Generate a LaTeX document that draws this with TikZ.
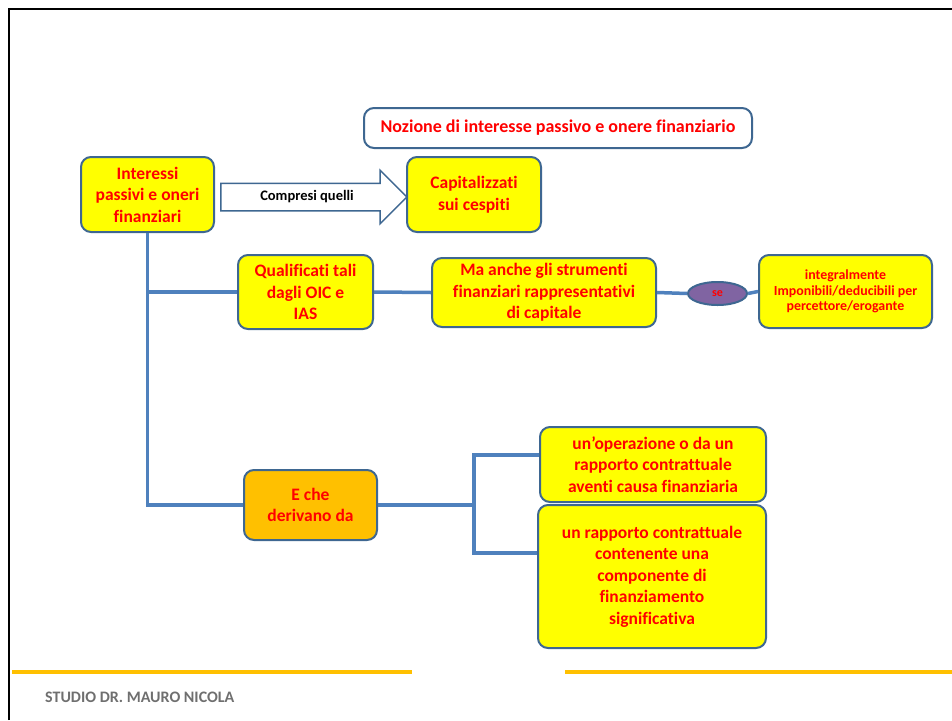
\documentclass[tikz,border=0pt]{standalone}
\usepackage{fontspec}
\setmainfont{Carlito}[BoldFont={Carlito Bold}, Ligatures=NoCommon]
\usepackage{xcolor}
\usepackage{tikz}
\usetikzlibrary{shapes.geometric, shapes.arrows}
\definecolor{giallo}{HTML}{FFFF00}
\definecolor{arancio}{HTML}{FFC000}
\definecolor{rosso}{HTML}{FF0000}
\definecolor{bordo}{HTML}{3E6791}
\definecolor{linblu}{HTML}{4F81BD}
\definecolor{viola}{HTML}{8064A2}
\definecolor{grigio}{HTML}{6F6F6F}
\tikzstyle{cella} = [rectangle, rounded corners=10pt,
inner sep=0pt,
draw=bordo, line width=2pt,
fill=giallo,
text=rosso,
align=center,
font=\bfseries\fontsize{17.5}{21.5}\selectfont]
\tikzstyle{titolo} = [cella, fill=white, font=\bfseries\fontsize{18}{20}\selectfont]
\tikzstyle{piccola} = [cella, font=\bfseries\fontsize{13.9}{15.5}\selectfont]
\tikzstyle{freccia} = [single arrow,
single arrow head extend=13pt,
text height=8pt, text depth=2pt,
inner xsep=0pt, inner ysep=8pt,
draw=bordo, line width=1.5pt,
fill=white,
font=\bfseries\fontsize{14.5}{16}\selectfont]
\tikzstyle{linea} = [linblu, line width=3.5pt]

\begin{document}
\begin{tikzpicture}[x=1pt, y=-1pt]
			\useasboundingbox (0,0) rectangle (952,720);
			% cornice della slide
			\draw [black, line width=2pt] (9,720) -- (9,9) -- (952,9);
			
			\node (nozione)[titolo, minimum width=388pt, minimum height=40pt] at (558,128) {Nozione di interesse passivo e onere finanziario};
			
			\node (interessi)[cella, minimum width=133pt, minimum height=75pt] at (147.5,194.5) {Interessi\\passivi e oneri\\finanziari};
			\node (capitalizzati)[cella, minimum width=134pt, minimum height=75pt] at (474,194.5) {Capitalizzati\\sui cespiti};
			\node (compresi)[freccia, minimum height=186pt] at (307,197) {Compresi quelli};
			
			\node (qualificati)[cella, minimum width=135pt, minimum height=74pt] at (305.5,292) {Qualificati tali\\dagli OIC e\\IAS};
			\node (strumenti)[cella, minimum width=224pt, minimum height=69pt] at (544,292.5) {Ma anche gli strumenti\\finanziari rappresentativi\\di capitale};
			\node (se)[ellipse, draw=bordo, line width=2pt, fill=viola, text=rosso, inner sep=0pt, minimum width=59pt, minimum height=23pt, font=\bfseries\fontsize{12}{13}\selectfont] at (717.5,293.5) {se};
			\node (integralmente)[piccola, minimum width=173pt, minimum height=73pt] at (845.5,291.5) {integralmente\\Imponibili/deducibili per\\percettore/erogante};
			
			\node (derivano)[cella, fill=arancio, minimum width=133pt, minimum height=70pt] at (310.5,505) {E che\\derivano da};
			\node (operazione)[cella, minimum width=226pt, minimum height=75pt] at (653,464.5) {un’operazione o da un\\rapporto contrattuale\\aventi causa finanziaria};
			\node (rapporto)[cella, minimum width=228pt, minimum height=143pt] at (652,576.5) {un rapporto contrattuale\\contenente una\\componente di\\finanziamento\\significativa};
			
			% rami
			\draw [linea] (interessi.south) |- (derivano.west);
			\draw [linea] (interessi.south |- qualificati.west) -- (qualificati.west);
			\draw [linea] (qualificati.east) -- (strumenti.west);
			\draw [linea] (strumenti.east) -- (se.west);
			\draw [linea] (se.east) -- (integralmente.west);
			\draw [linea] (derivano.east) -- ++(96,0) coordinate (snodo);
			\draw [linea] ([yshift=9.5pt]operazione.west) -| (snodo) |- ([yshift=23.5pt]rapporto.west);
			
			% pie di pagina
			\draw [arancio, line width=4pt] (12,672) -- (412,672);
			\draw [arancio, line width=4pt] (565,672) -- (952,672);
			\node (studio)[anchor=west, text=grigio, inner sep=0pt, font=\bfseries\fontsize{16}{18}\selectfont] at (45,697) {STUDIO DR. MAURO NICOLA};
		\end{tikzpicture}
\end{document}
